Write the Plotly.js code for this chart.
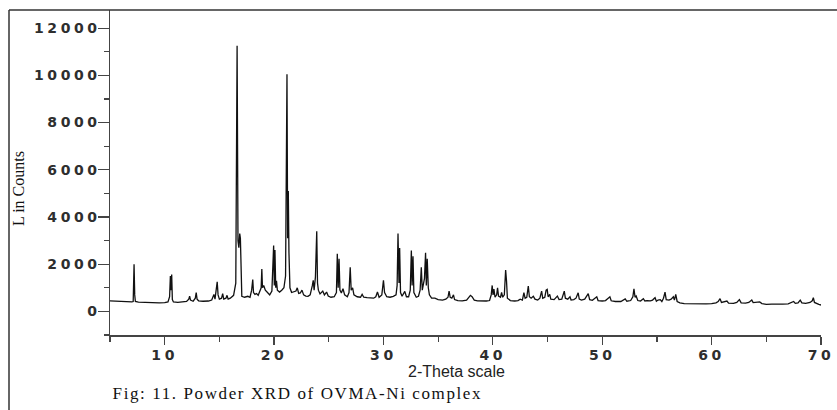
<!DOCTYPE html>
<html>
<head>
<meta charset="utf-8">
<script src="https://cdn.plot.ly/plotly-3.0.1.min.js"></script>
<style>
html,body{margin:0;padding:0;background:#fff;}
#chart{width:837px;height:410px;}
.xtick text,.ytick text{letter-spacing:3.6px;}
.annotation[data-index="2"] text{letter-spacing:1.6px;}
</style>
</head>
<body>
<div id="chart"></div>
<script>
// 2-Theta (degrees)
const twoTheta = [
5.0,5.5,6.0,6.5,7.0,7.12,7.2,7.26,7.32,7.6,8.0,8.5,9.0,9.5,10.0,10.3,10.45,10.52,10.58,10.64,10.7,10.8,
11.2,11.6,12.0,12.2,12.28,12.36,12.6,12.8,12.88,12.96,13.1,13.5,14.0,14.3,14.5,14.6,14.72,14.8,14.88,
15.0,15.2,15.3,15.4,15.6,15.7,15.8,16.0,16.3,16.5,16.58,16.62,16.66,16.7,16.78,16.86,16.92,16.98,
17.05,17.3,17.6,17.8,17.95,18.05,18.12,18.25,18.4,18.55,18.7,18.82,18.88,18.94,19.05,19.2,19.4,19.6,
19.8,19.96,20.02,20.08,20.15,20.22,20.3,20.5,20.7,20.9,21.05,21.12,21.18,21.24,21.3,21.36,21.45,21.6,
21.8,22.0,22.12,22.25,22.4,22.55,22.7,22.9,23.1,23.3,23.5,23.58,23.66,23.78,23.9,23.97,24.05,24.2,
24.45,24.6,24.8,24.95,25.2,25.5,25.7,25.78,25.86,25.94,26.02,26.15,26.3,26.45,26.7,26.85,26.96,27.05,
27.18,27.3,27.6,27.9,28.05,28.2,28.5,28.8,29.1,29.3,29.45,29.6,29.85,30.0,30.1,30.3,30.6,30.9,31.15,
31.25,31.33,31.42,31.48,31.56,31.7,31.95,32.1,32.3,32.45,32.55,32.62,32.7,32.78,33.0,33.2,33.35,33.46,
33.55,33.6,33.75,33.85,33.92,34.0,34.1,34.2,34.4,34.7,35.0,35.4,35.7,35.9,36.0,36.1,36.25,36.4,36.5,
36.8,37.2,37.6,37.8,37.95,38.1,38.3,38.6,39.0,39.4,39.7,39.85,39.94,40.02,40.1,40.2,40.35,40.43,40.52,
40.7,40.8,40.9,41.05,41.17,41.25,41.33,41.6,42.0,42.3,42.5,42.7,42.84,42.95,43.1,43.24,43.34,43.5,
43.7,43.85,44.1,44.3,44.46,44.56,44.75,44.87,44.97,45.05,45.2,45.3,45.6,45.9,46.05,46.3,46.53,46.63,
46.85,47.05,47.15,47.4,47.6,47.8,47.9,48.1,48.4,48.72,48.85,49.1,49.5,49.62,50.0,50.3,50.7,50.82,
51.2,51.7,52.1,52.25,52.6,52.8,52.9,53.0,53.1,53.25,53.5,53.76,53.9,54.1,54.4,54.6,54.83,54.95,55.1,
55.3,55.45,55.6,55.74,55.85,56.1,56.3,56.5,56.6,56.72,56.85,57.1,57.5,58.0,58.5,59.0,59.5,60.0,60.4,
60.6,60.77,60.9,61.2,61.4,61.55,62.0,62.3,62.54,62.7,63.1,63.4,63.67,63.8,64.1,64.4,64.6,65.0,65.5,
66.0,66.5,67.0,67.3,67.5,67.65,67.9,68.1,68.25,68.6,69.0,69.2,69.3,69.4,69.6,69.8,70.0
];
// Lin (Counts)
const counts = [
450,430,420,410,400,420,2000,700,420,390,380,370,370,360,370,400,620,1500,900,1560,500,400,
380,390,420,520,650,480,430,560,800,520,450,430,440,480,720,520,1180,1250,700,
520,560,750,520,560,680,520,560,680,1200,7200,11260,7100,3000,2700,3300,3100,1400,
640,600,640,600,900,1350,800,720,760,680,900,1000,1800,1000,1100,900,800,700,
860,2790,1100,2600,1000,1300,900,820,900,1000,1500,9060,10050,3100,5100,2500,1000,800,
820,860,1000,760,780,900,700,650,640,700,1100,1320,900,1450,3400,1200,900,740,
860,700,820,650,600,620,800,2440,1000,2230,900,780,960,700,620,800,1870,900,
1000,700,620,600,720,600,580,560,560,620,820,600,700,1320,800,620,600,640,700,
1100,3300,1200,2690,800,640,850,620,620,900,2580,1100,2340,800,600,640,900,1870,
900,1000,1400,2480,1100,2230,1000,700,560,560,500,480,520,600,860,600,560,700,500,
460,450,480,620,680,620,480,450,440,440,460,700,1100,700,950,600,700,1000,650,
600,800,600,700,1750,1290,560,460,440,460,520,480,790,560,600,1070,620,560,
640,520,480,560,860,560,600,900,930,620,720,520,500,650,500,520,860,560,
520,620,480,500,560,790,520,480,520,750,500,470,620,460,440,460,620,450,
420,420,530,430,460,620,960,600,650,460,440,540,440,460,450,480,580,430,480,
500,420,560,815,500,480,520,620,480,720,420,360,330,320,330,310,320,330,360,
420,540,380,400,440,350,340,380,500,360,350,380,480,370,380,400,330,300,310,
300,310,320,360,420,340,360,480,360,340,380,450,580,380,330,300,270
];
const xTickVals = [10,20,30,40,50,60,70];
const yTickVals = [0,2000,4000,6000,8000,10000,12000];
const yTickText = ['0','2000','4000','6000','8000','10000','12000'];

const tickFont = {family:'"DejaVu Sans", Verdana, sans-serif', size:14, color:'#2e2e2e', weight:'bold'};
const trace = {
  x: twoTheta, y: counts, type:'scatter', mode:'lines',
  line:{color:'#111', width:1.3}, hoverinfo:'skip'
};
// paper coordinates helpers: plot area spans x 110..821 px, y 10..335 px
const px = v => (v-110)/711;
const py = v => (335-v)/325;
const layout = {
  width:837, height:410,
  margin:{l:110, r:16, t:10, b:75, pad:0},
  paper_bgcolor:'#fff', plot_bgcolor:'#fff',
  showlegend:false,
  xaxis:{
    range:[5,70], tickvals:xTickVals, ticks:'outside', ticklen:8, tickwidth:1.2, tickcolor:'#444',
    showline:true, linecolor:'#444', linewidth:1.5, showgrid:false, zeroline:false,
    tickfont:tickFont, ticklabelstandoff:-1,
    minor:{dtick:5, tick0:5, ticks:'outside', ticklen:5, tickwidth:1.2, tickcolor:'#444', showgrid:false}
  },
  yaxis:{
    range:[-1000,12770], tickvals:yTickVals, ticktext:yTickText, ticks:'outside', ticklen:11, tickwidth:1.2, tickcolor:'#444',
    showline:true, linecolor:'#444', linewidth:1.5, showgrid:false, zeroline:false,
    tickfont:tickFont, ticklabelstandoff:-6,
    minor:{dtick:1000, tick0:0, ticks:'outside', ticklen:5, tickwidth:1.2, tickcolor:'#444', showgrid:false}
  },
  shapes:[
    {type:'line', xref:'paper', yref:'paper', x0:px(9), x1:px(9), y0:py(10), y1:py(412), line:{color:'#333', width:1.5}},
    {type:'line', xref:'paper', yref:'paper', x0:px(9), x1:px(840), y0:py(10), y1:py(10), line:{color:'#333', width:1.5}}
  ],
  annotations:[
    {text:'L in Counts', xref:'paper', yref:'paper', x:px(18), y:py(188), textangle:-90,
     showarrow:false, xanchor:'center', yanchor:'middle',
     font:{family:'"Liberation Serif", "Times New Roman", serif', size:16, color:'#111'}},
    {text:'2-Theta scale', xref:'paper', yref:'paper', x:px(456), y:py(371),
     showarrow:false, xanchor:'center', yanchor:'middle',
     font:{family:'"Liberation Sans", Arial, sans-serif', size:16, color:'#222'}},
    {text:'Fig: 11. Powder XRD of OVMA-Ni complex', xref:'paper', yref:'paper', x:px(297), y:py(393),
     showarrow:false, xanchor:'center', yanchor:'middle',
     font:{family:'"Liberation Serif", "Times New Roman", serif', size:17, color:'#111'}}
  ]
};
Plotly.newPlot('chart', [trace], layout, {staticPlot:true, displayModeBar:false});
</script>
</body>
</html>
